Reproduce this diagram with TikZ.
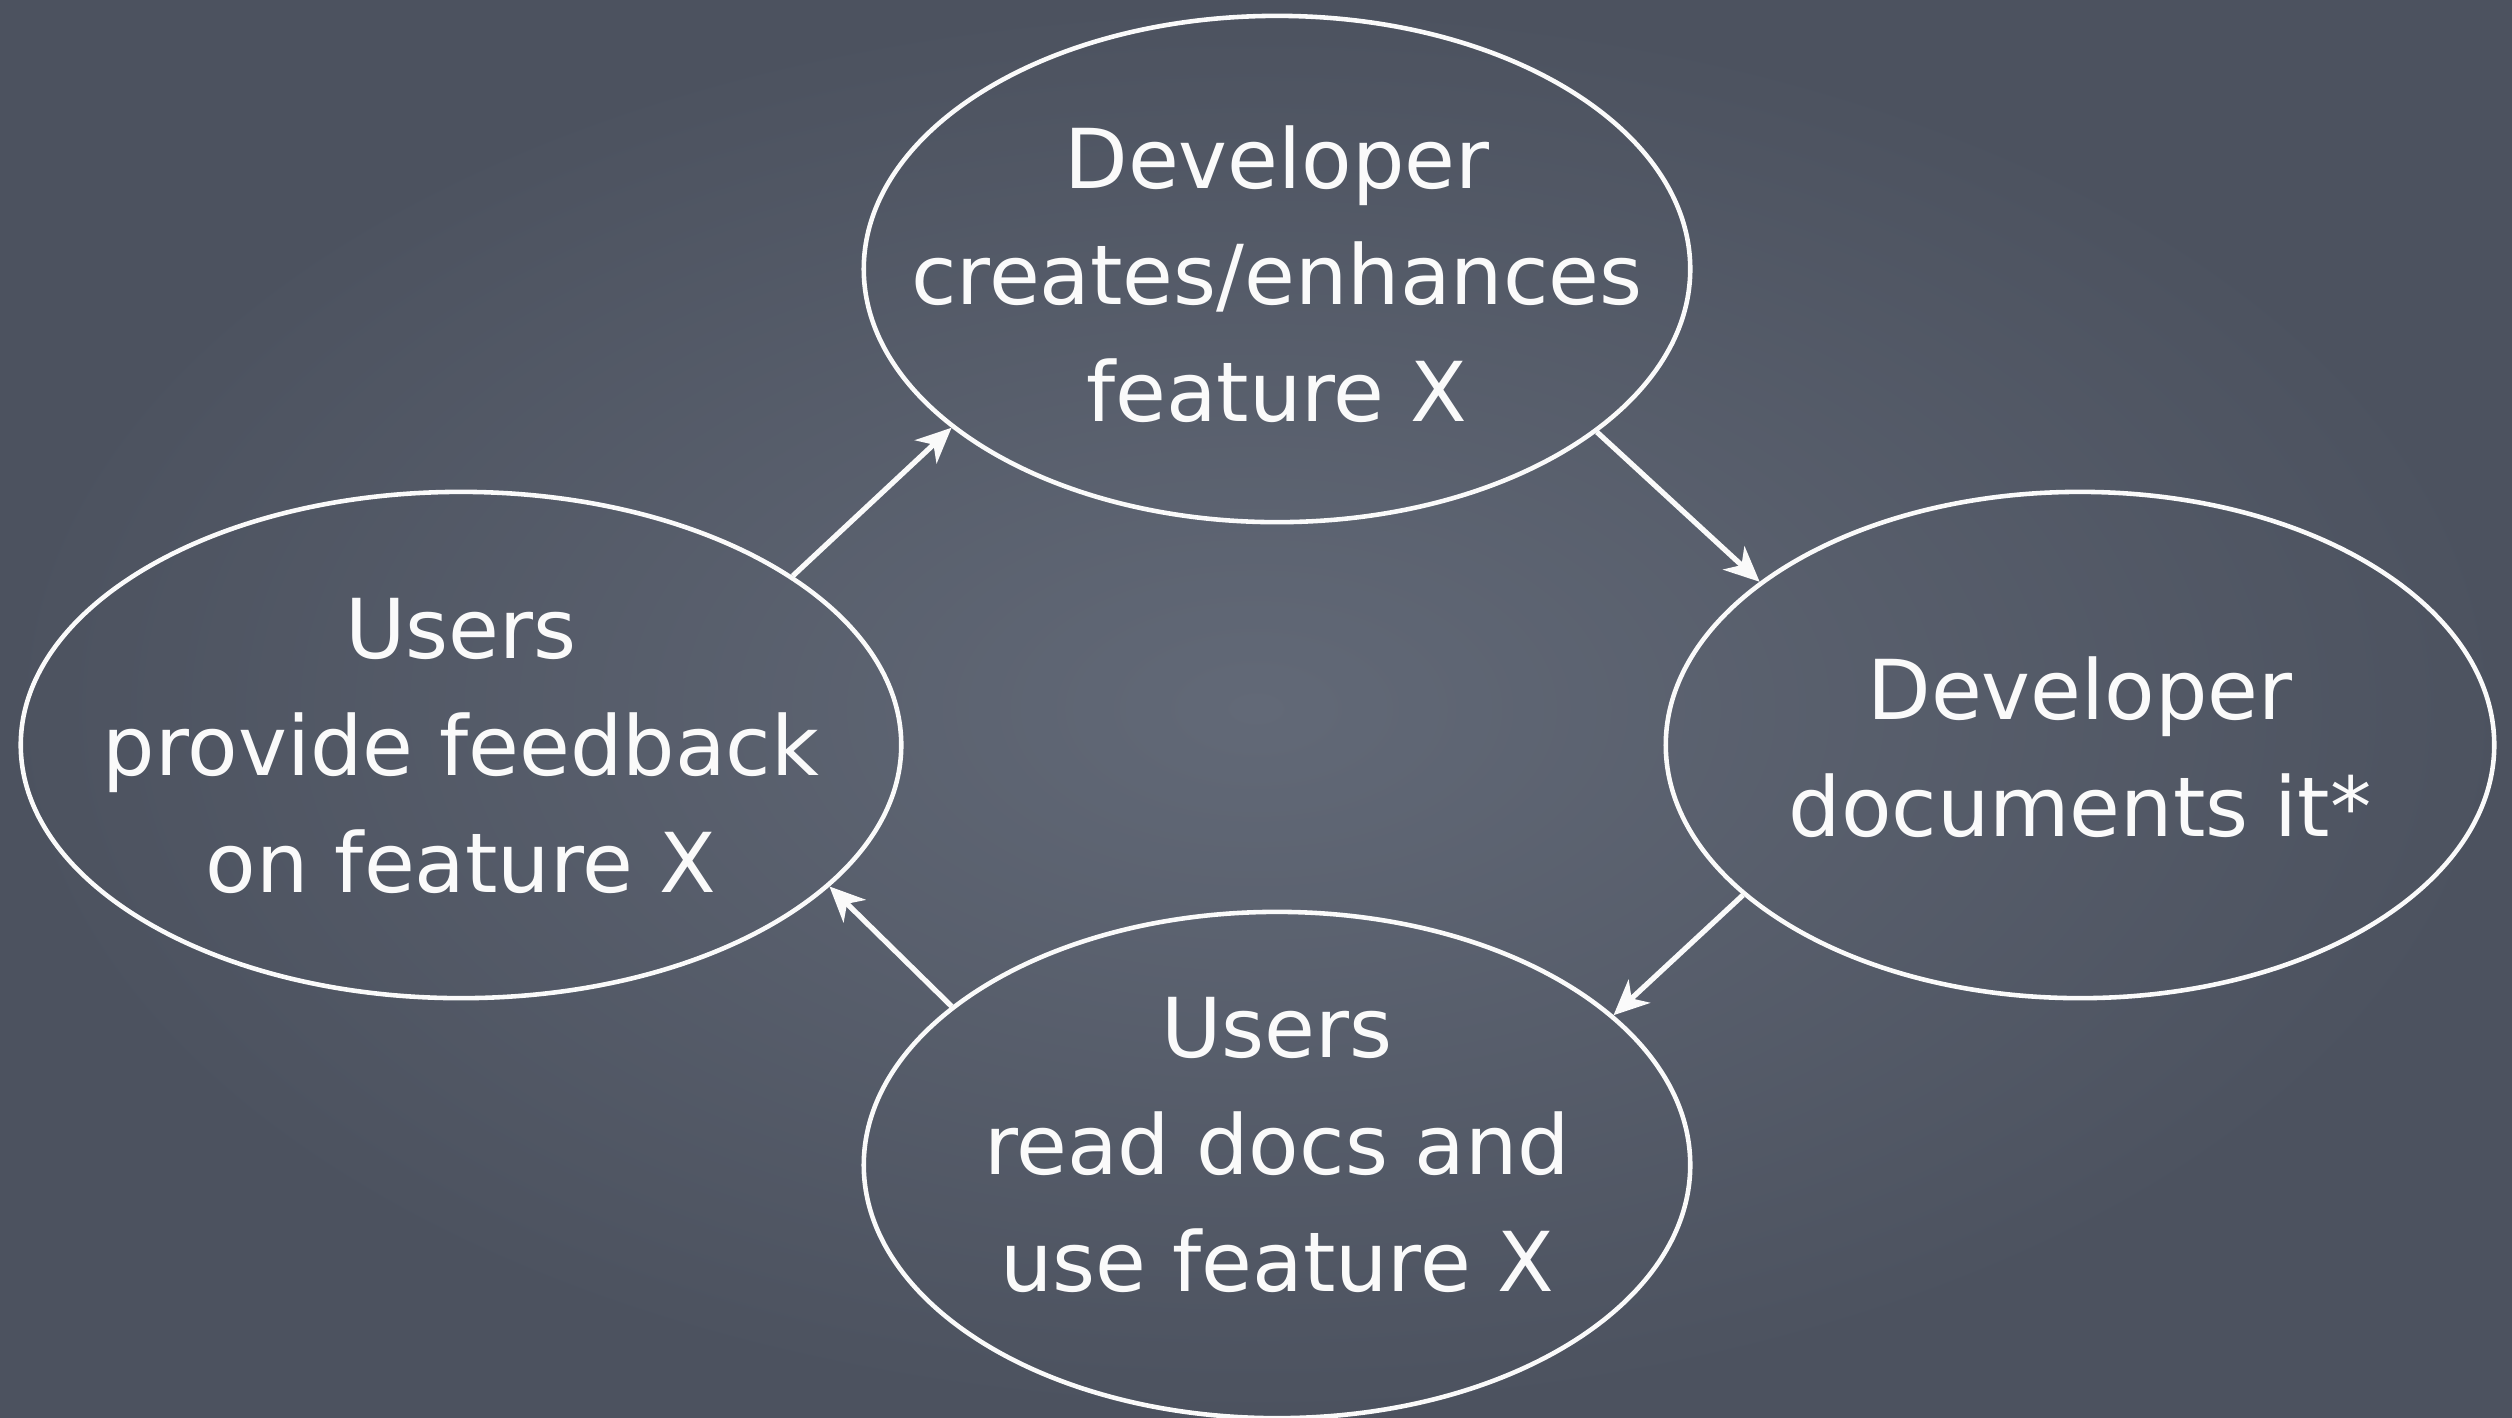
\documentclass[tikz,border=0pt]{standalone}
\usepackage{fontspec}
\setmainfont{DejaVu Sans}
\usetikzlibrary{shapes.geometric,arrows.meta}
\definecolor{boardin}{RGB}{98,105,119}
\definecolor{boardout}{RGB}{76,82,95}
\definecolor{chalk}{RGB}{250,250,250}
\tikzset{
  bubble/.style={ellipse,draw=chalk,line width=1.3pt,inner sep=0pt,minimum height=5.06cm},
  words/.style={align=center,text=chalk,font=\fontsize{23.5}{33.2}\selectfont},
  flow/.style={draw=chalk,line width=1.5pt,-{Stealth[length=10pt,width=9pt,inset=3pt]}}
}
\begin{document}
\begin{tikzpicture}[x=0.01cm,y=-0.01cm]
\useasboundingbox (0,0) rectangle (2512,1417);
\shade[inner color=boardin,outer color=boardout] (0,0) rectangle (2512,1417);
\node[bubble,minimum width=8.26cm] (dev) at (1277,269) {};
\node[bubble,minimum width=8.28cm] (doc) at (2080,745) {};
\node[bubble,minimum width=8.26cm] (use) at (1277,1165) {};
\node[bubble,minimum width=8.80cm] (fb) at (461,745) {};
\node[words] (devt) at (1277,274) {Developer\\creates/enhances\\feature X};
\node[words] (doct) at (2080,747) {Developer\\documents it*};
\node[words] (uset) at (1277,1145) {Users\\read docs and\\use feature X};
\node[words] (fbt) at (461,746) {Users\\provide feedback\\on feature X};
\draw[flow] (dev.-27.4) -- (doc.153);
\draw[flow] (doc.204.5) -- (use.24.8);
\draw[flow] (use.154.3) -- (fb.-21.4);
\draw[flow] (fb.27.1) -- (dev.206.8);
\end{tikzpicture}
\end{document}
